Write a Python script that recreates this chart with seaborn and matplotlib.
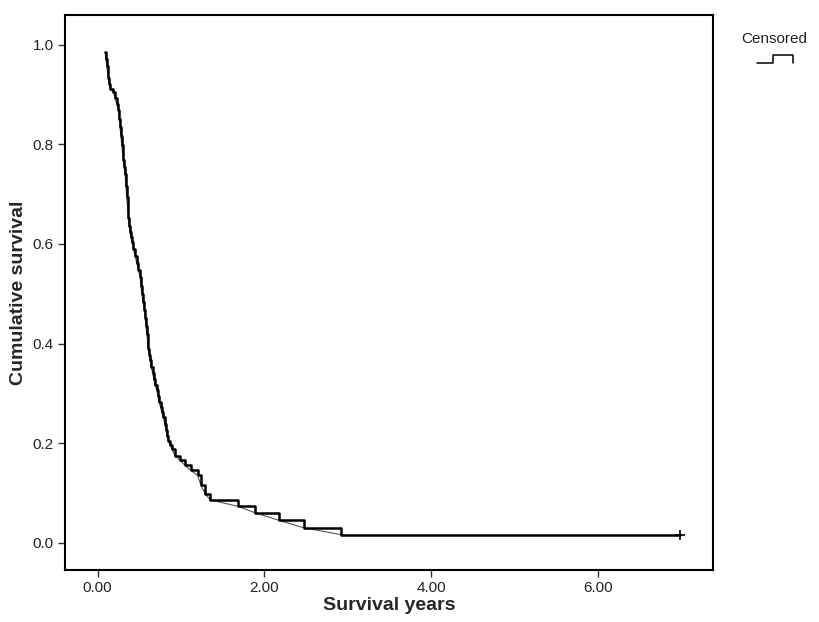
import numpy as np
import pandas as pd
import matplotlib
matplotlib.use("Agg")
import matplotlib.pyplot as plt
import seaborn as sns
from matplotlib.lines import Line2D

# Kaplan-Meier estimate (time in years, survival after each event)
event_years = [0.09, 0.10, 0.11, 0.12, 0.13, 0.14, 0.15, 0.19, 0.21, 0.23,
               0.25, 0.26, 0.27, 0.28, 0.29, 0.30, 0.31, 0.32, 0.33, 0.34,
               0.35, 0.36, 0.37, 0.38, 0.39, 0.40, 0.41, 0.43, 0.45, 0.47,
               0.49, 0.51, 0.52, 0.53, 0.545, 0.56, 0.57, 0.58, 0.59, 0.60,
               0.61, 0.62, 0.63, 0.645, 0.66, 0.675, 0.69, 0.71, 0.725, 0.74,
               0.755, 0.77, 0.79, 0.805, 0.82, 0.835, 0.85, 0.87, 0.89, 0.93,
               0.99, 1.05, 1.12, 1.20, 1.24, 1.29, 1.35, 1.68, 1.89, 2.17,
               2.47, 2.92]
survival = [0.985, 0.972, 0.958, 0.946, 0.934, 0.922, 0.912, 0.905, 0.893, 0.882,
            0.870, 0.852, 0.834, 0.816, 0.798, 0.782, 0.768, 0.754, 0.740, 0.716,
            0.694, 0.672, 0.652, 0.636, 0.624, 0.613, 0.604, 0.590, 0.576, 0.562,
            0.548, 0.534, 0.516, 0.500, 0.484, 0.468, 0.452, 0.436, 0.420, 0.404,
            0.388, 0.376, 0.366, 0.352, 0.340, 0.328, 0.317, 0.306, 0.294, 0.282,
            0.272, 0.262, 0.252, 0.238, 0.226, 0.214, 0.204, 0.196, 0.188, 0.175,
            0.165, 0.155, 0.145, 0.135, 0.115, 0.098, 0.086, 0.073, 0.060, 0.045,
            0.030, 0.016]
censored_years = [6.98]
censored_surv = [0.016]

df = pd.DataFrame({"years": event_years + censored_years,
                   "surv": survival + censored_surv})

sns.set_style("white")
plt.rcParams["font.family"] = ["Liberation Sans", "DejaVu Sans"]

fig = plt.figure(figsize=(8.19, 6.22), dpi=100)
ax = fig.add_axes([0.0794, 0.0836, 0.7912, 0.8923])

# thin line through the step corners, then the step curve on top
sns.lineplot(data=df.iloc[:-1], x="years", y="surv", ax=ax, color="#555555",
             lw=0.8, estimator=None)
ax.step(df["years"], df["surv"], where="post", color="black", lw=1.8)
ax.plot(censored_years, censored_surv, marker="+", ms=7, mew=1.2, color="black",
        ls="none")

ax.set_xlim(-0.39, 7.38)
ax.set_ylim(-0.055, 1.06)
ax.set_xticks([0, 2, 4, 6])
ax.set_xticklabels(["0.00", "2.00", "4.00", "6.00"])
ax.set_yticks([0, 0.2, 0.4, 0.6, 0.8, 1.0])
ax.set_yticklabels(["0.0", "0.2", "0.4", "0.6", "0.8", "1.0"])
ax.tick_params(axis="both", direction="out", length=5, width=1, color="#333333",
               labelsize=11, labelcolor="#222222", bottom=True, left=True, pad=3)
for s in ax.spines.values():
    s.set_color("black")
    s.set_linewidth(1.5)

ax.set_xlabel("Survival years", fontsize=14, fontweight="bold", labelpad=1)
ax.set_ylabel("Cumulative survival", fontsize=14, fontweight="bold", labelpad=4)

# legend: "Censored" with a small step glyph
fig.text(0.945, 0.938, "Censored", fontsize=11, ha="center", va="center",
         color="#222222")
lx = [757, 773, 773, 793, 793]
ly = [63, 63, 55, 55, 63]
fig.add_artist(Line2D([x / 819 for x in lx], [1 - y / 622 for y in ly],
                      color="black", lw=1.1, transform=fig.transFigure))

fig.savefig("out.png", dpi=100)
